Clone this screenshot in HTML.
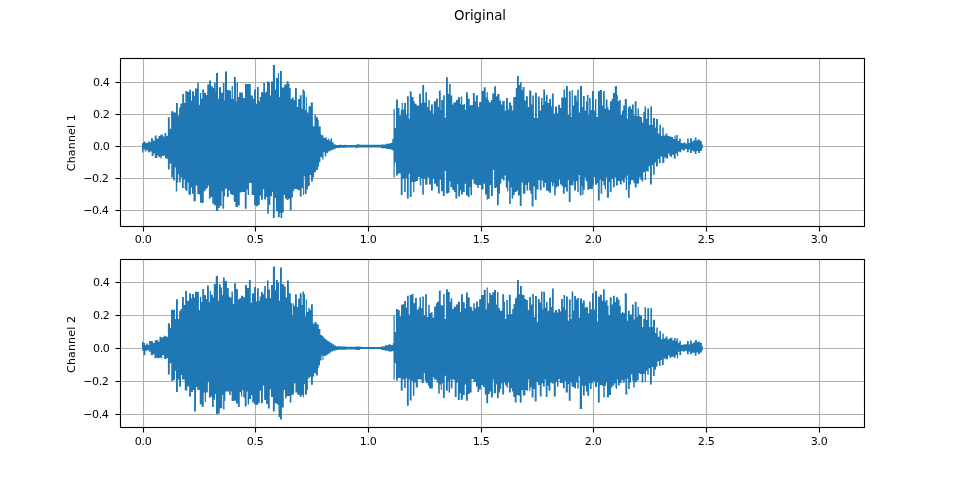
<!DOCTYPE html>
<html><head><meta charset="utf-8"><title>Original</title>
<style>
html,body{margin:0;padding:0;background:#fff;}
body{width:960px;height:480px;overflow:hidden;}
svg{display:block;}
text{font-family:"DejaVu Sans","Liberation Sans",sans-serif;fill:#000;}
.t{font-size:11.11px;}
.n{letter-spacing:-0.4px;}
.l{letter-spacing:0.1px;}
.g{stroke:#b0b0b0;stroke-width:1.11;}
.k{stroke:#000;stroke-width:1.11;}
.w{fill:#1f77b4;stroke:none;}
</style></head><body>
<svg width="960" height="480" viewBox="0 0 960 480">
<rect width="960" height="480" fill="#fff"/>
<text x="480" y="20.4" text-anchor="middle" style="font-size:13.33px">Original</text>
<g>
<line class="g" x1="143.5" y1="58.5" x2="143.5" y2="226.5"/><line class="g" x1="255.5" y1="58.5" x2="255.5" y2="226.5"/><line class="g" x1="368.5" y1="58.5" x2="368.5" y2="226.5"/><line class="g" x1="481.5" y1="58.5" x2="481.5" y2="226.5"/><line class="g" x1="593.5" y1="58.5" x2="593.5" y2="226.5"/><line class="g" x1="706.5" y1="58.5" x2="706.5" y2="226.5"/><line class="g" x1="819.5" y1="58.5" x2="819.5" y2="226.5"/><line class="g" x1="120.5" y1="82.5" x2="864.5" y2="82.5"/><line class="g" x1="120.5" y1="114.5" x2="864.5" y2="114.5"/><line class="g" x1="120.5" y1="146.5" x2="864.5" y2="146.5"/><line class="g" x1="120.5" y1="178.5" x2="864.5" y2="178.5"/><line class="g" x1="120.5" y1="210.5" x2="864.5" y2="210.5"/>
<path class="w" d="M142.00,146.10L142.00,142.88L143.50,142.88L143.50,141.62L145.38,141.62L145.38,142.88L147.88,142.88L147.88,141.62L149.75,141.62L149.75,142.25L151.00,142.25L151.00,138.25L152.88,138.25L152.88,140.38L154.75,140.38L154.75,135.38L156.62,135.38L156.62,138.50L158.50,138.50L158.50,136.00L160.38,136.00L160.38,134.50L162.88,134.50L162.88,136.62L164.50,136.62L164.50,133.25L166.38,133.25L166.38,136.00L167.88,136.00L167.90,117.25L169.75,117.25L169.75,128.75L171.12,128.75L171.12,111.25L173.50,111.25L173.50,112.50L176.00,112.50L176.00,102.88L177.88,102.88L177.88,115.62L179.12,115.62L179.12,107.50L180.38,107.50L180.38,103.50L182.25,103.50L182.25,94.12L184.12,94.12L184.12,103.12L185.38,103.12L185.38,91.00L187.25,91.00L187.25,91.88L189.12,91.88L189.12,89.75L191.00,89.75L191.00,100.62L192.00,100.62L192.00,91.25L194.12,91.25L194.12,96.25L195.00,96.25L195.00,88.50L197.25,88.50L197.25,82.75L198.88,82.75L198.88,104.75L200.00,104.75L200.00,93.12L201.25,93.12L201.25,98.75L202.25,98.75L202.25,89.38L204.12,89.38L204.12,93.12L206.00,93.12L206.00,95.00L207.25,95.00L207.25,84.38L209.12,84.38L209.12,80.62L211.00,80.62L211.00,86.25L212.88,86.25L212.88,88.12L214.12,88.12L214.12,82.50L215.75,82.50L215.75,91.25L216.00,91.25L216.00,72.88L218.00,72.88L218.00,98.75L219.00,98.75L219.00,87.25L221.00,87.25L221.00,92.75L222.88,92.75L222.88,83.12L224.50,83.12L224.50,100.62L225.00,100.62L225.00,71.62L227.00,71.62L227.00,90.00L229.12,90.00L229.12,90.62L231.00,90.62L231.00,98.75L231.62,98.75L231.62,86.00L232.88,86.00L232.88,99.00L233.88,99.00L233.88,77.12L235.75,77.12L235.75,82.50L236.38,82.50L236.38,101.25L237.00,101.25L237.00,82.25L238.00,82.25L238.00,96.88L239.12,96.88L239.12,92.50L242.88,92.50L242.88,98.12L245.00,98.12L245.00,84.00L250.75,84.00L250.75,95.38L252.88,95.38L252.88,98.75L254.12,98.75L254.12,89.38L256.00,89.38L256.00,103.75L257.00,103.75L257.00,86.88L258.75,86.88L258.75,101.25L259.75,101.25L259.75,96.88L261.00,96.88L261.00,92.25L263.25,92.25L263.25,83.12L265.00,83.12L265.00,92.50L266.25,92.50L266.25,91.25L267.00,91.25L267.00,81.25L268.50,81.25L268.50,82.25L270.00,82.25L270.00,95.62L271.00,95.62L271.00,81.50L272.88,81.50L272.88,65.00L275.00,65.00L275.00,89.38L276.00,89.38L276.00,78.12L277.88,78.12L277.88,73.12L279.12,73.12L279.12,96.88L280.00,96.88L280.00,71.00L281.88,71.00L281.88,87.50L284.12,87.50L284.12,84.38L286.62,84.38L286.62,81.25L288.50,81.25L288.50,83.75L289.50,83.75L289.50,88.12L290.75,88.12L290.75,98.75L292.25,98.75L292.25,97.50L293.75,97.50L293.75,100.00L295.00,100.00L295.00,88.12L296.88,88.12L296.88,106.88L298.12,106.88L298.12,99.00L299.75,99.00L299.75,95.25L301.62,95.25L301.62,108.75L302.50,108.75L302.50,89.38L304.12,89.38L304.12,91.25L305.00,91.25L305.00,110.00L305.75,110.00L305.75,96.88L306.88,96.88L306.88,112.50L308.50,112.50L308.50,106.25L310.75,106.25L310.75,102.50L312.88,102.50L312.88,126.25L314.50,126.25L314.50,115.00L316.00,115.00L316.00,117.25L317.88,117.25L317.90,119.75L318.75,119.75L318.75,126.62L320.75,126.62L320.75,134.75L322.25,134.75L322.25,135.38L323.50,135.38L323.50,137.88L325.00,137.88L325.00,137.25L326.62,137.25L326.62,139.75L327.88,139.75L327.88,138.50L329.12,138.50L329.12,140.38L330.62,140.38L330.62,138.25L332.00,138.25L332.00,142.25L333.75,142.25L333.75,144.50L336.00,144.50L336.00,145.00L339.75,145.00L339.75,144.50L341.00,144.50L341.00,145.12L344.75,145.12L344.75,144.75L346.00,144.75L346.00,144.88L356.00,144.88L356.00,144.62L357.88,144.62L357.88,144.00L358.75,144.00L358.75,144.62L359.75,144.62L359.75,144.75L381.00,144.75L381.00,144.50L386.00,144.50L386.00,143.75L389.75,143.75L389.75,142.88L392.25,142.88L392.25,139.12L393.50,139.12L393.50,109.00L394.75,109.00L394.75,128.12L396.00,128.12L396.00,99.38L397.88,99.38L397.88,108.12L399.50,108.12L399.50,115.62L400.75,115.62L400.75,110.00L401.62,110.00L401.62,103.12L402.88,103.12L402.88,109.38L404.12,109.38L404.12,103.12L406.00,103.12L406.00,114.38L407.00,114.38L407.00,96.25L408.75,96.25L408.75,118.75L409.75,118.75L409.75,91.25L411.62,91.25L411.62,96.88L413.50,96.88L413.50,101.25L414.75,101.25L414.75,103.75L416.62,103.75L416.62,105.62L419.12,105.62L419.12,93.75L421.00,93.75L421.00,103.12L422.25,103.12L422.25,85.00L424.12,85.00L424.12,102.50L425.38,102.50L425.38,92.25L427.00,92.25L427.00,106.88L428.25,106.88L428.25,100.00L429.75,100.00L429.75,110.62L431.00,110.62L431.00,104.38L432.88,104.38L432.88,113.75L433.75,113.75L433.75,101.25L436.00,101.25L436.00,98.50L437.88,98.50L437.88,106.88L438.88,106.88L438.88,90.62L440.75,90.62L440.75,110.00L441.25,110.00L441.25,100.00L443.12,100.00L443.12,95.25L444.75,95.25L444.75,117.50L446.00,117.50L446.00,77.25L447.88,77.25L447.88,93.75L449.12,93.75L449.12,84.00L450.75,84.00L450.75,95.62L452.25,95.62L452.25,104.38L453.50,104.38L453.50,102.25L456.00,102.25L456.00,100.00L457.88,100.00L457.88,97.25L460.00,97.25L460.00,103.75L460.75,103.75L460.75,96.62L462.25,96.62L462.25,105.00L463.50,105.00L463.50,104.00L465.00,104.00L465.00,109.75L466.00,109.75L466.00,92.25L467.88,92.25L467.88,98.75L469.75,98.75L469.75,105.62L470.75,105.62L470.75,105.00L472.88,105.00L472.88,93.12L474.75,93.12L474.75,101.25L476.00,101.25L476.00,95.25L477.88,95.25L477.88,106.88L479.12,106.88L479.12,101.88L481.62,101.88L481.62,91.00L483.75,91.00L483.75,87.25L485.75,87.25L485.75,97.50L486.62,97.50L486.62,92.25L487.88,92.25L487.88,100.00L488.88,100.00L488.88,102.25L491.00,102.25L491.00,100.00L492.25,100.00L492.25,93.50L494.12,93.50L494.12,86.25L496.00,86.25L496.00,96.25L497.25,96.25L497.25,94.00L499.50,94.00L499.50,100.62L501.00,100.62L501.00,104.38L502.25,104.38L502.25,101.00L504.75,101.00L504.75,110.62L506.00,110.62L506.00,98.12L507.88,98.12L507.88,109.38L508.88,109.38L508.88,102.50L511.00,102.50L511.00,105.62L512.25,105.62L512.25,110.62L513.25,110.62L513.25,96.88L515.75,96.88L515.75,88.12L517.00,88.12L517.00,76.00L518.88,76.00L518.88,85.00L520.00,85.00L520.00,82.25L521.62,82.25L521.62,90.00L522.62,90.00L522.62,86.88L524.50,86.88L524.50,100.62L526.00,100.62L526.00,96.25L527.88,96.25L527.88,106.88L529.12,106.88L529.12,90.62L531.38,90.62L531.38,104.38L532.25,104.38L532.25,95.62L533.88,95.62L533.88,118.12L535.00,118.12L535.00,92.75L536.88,92.75L536.88,118.12L537.88,118.12L537.88,96.50L539.75,96.50L539.75,110.62L541.00,110.62L541.00,98.12L542.50,98.12L542.50,105.00L543.25,105.00L543.25,89.38L545.00,89.38L545.00,101.25L546.00,101.25L546.00,95.00L547.62,95.00L547.62,103.12L549.12,103.12L549.12,98.75L551.00,98.75L551.00,106.25L552.00,106.25L552.00,93.50L553.75,93.50L553.75,113.75L555.00,113.75L555.00,106.50L557.00,106.50L557.00,113.12L558.12,113.12L558.12,104.75L560.00,104.75L560.00,108.12L561.25,108.12L561.25,97.50L563.50,97.50L563.50,89.38L565.12,89.38L565.12,97.50L566.00,97.50L566.00,86.00L567.88,86.00L567.88,115.00L568.88,115.00L568.88,91.25L570.75,91.25L570.75,116.88L571.62,116.88L571.62,90.00L572.88,90.00L572.88,105.62L574.12,105.62L574.12,95.62L576.62,95.62L576.62,101.25L577.25,101.25L577.25,89.75L578.88,89.75L578.88,112.50L580.00,112.50L580.00,86.00L582.00,86.00L582.00,106.88L582.88,106.88L582.88,96.00L584.75,96.00L584.75,110.62L586.00,110.62L586.00,101.25L586.88,101.25L586.88,95.00L588.50,95.00L588.50,114.38L589.12,114.38L589.12,98.12L590.75,98.12L590.75,110.00L592.00,110.00L592.00,91.00L593.88,91.00L593.88,110.62L595.00,110.62L595.00,99.00L596.38,99.00L596.38,116.88L597.88,116.88L597.88,91.25L599.75,91.25L599.75,90.00L602.00,90.00L602.00,105.62L603.00,105.62L603.00,91.25L604.75,91.25L604.75,108.75L605.75,108.75L605.75,99.38L607.50,99.38L607.50,107.50L608.50,107.50L608.50,110.00L610.00,110.00L610.00,101.25L611.62,101.25L611.62,98.75L612.88,98.75L612.88,93.12L614.75,93.12L614.75,86.25L616.00,86.25L616.00,86.00L617.00,86.00L617.00,95.00L617.88,95.00L617.88,101.25L619.12,101.25L619.12,100.00L620.75,100.00L620.75,115.00L622.00,115.00L622.00,110.62L623.25,110.62L623.25,105.62L624.75,105.62L624.75,99.00L626.88,99.00L626.88,118.75L627.88,118.75L627.88,107.25L629.12,107.25L629.12,106.00L630.75,106.00L630.75,108.75L632.00,108.75L632.00,104.38L633.75,104.38L633.75,115.62L634.75,115.62L634.75,101.25L636.62,101.25L636.62,116.25L637.50,116.25L637.50,108.50L638.88,108.50L638.88,116.25L640.38,116.25L640.38,116.88L642.00,116.88L642.00,122.50L643.25,122.50L643.25,111.88L644.50,111.88L644.50,106.50L646.00,106.50L646.00,118.75L647.25,118.75L647.25,108.50L649.12,108.50L649.12,125.00L650.38,125.00L650.38,106.25L652.00,106.25L652.00,125.00L652.88,125.00L652.88,118.12L655.00,118.12L655.00,127.50L656.00,127.50L656.00,119.00L657.88,119.00L657.90,133.50L659.38,133.50L659.38,124.75L661.00,124.75L661.00,136.00L662.25,136.00L662.25,127.50L663.75,127.50L663.75,135.38L665.62,135.38L665.62,133.50L667.50,133.50L667.50,136.00L669.38,136.00L669.38,136.62L671.25,136.62L671.25,137.00L673.12,137.00L673.12,139.12L674.38,139.12L674.38,135.38L675.62,135.38L675.62,139.12L676.25,139.12L676.25,135.00L677.75,135.00L677.75,141.00L679.00,141.00L679.00,138.75L680.88,138.75L680.88,142.88L682.50,142.88L682.50,143.25L683.75,143.25L683.75,142.25L685.25,142.25L685.25,143.50L687.12,143.50L687.12,138.50L688.75,138.50L688.75,142.88L690.00,142.88L690.00,138.25L691.88,138.25L691.88,141.62L693.12,141.62L693.12,140.38L694.75,140.38L694.75,137.50L696.50,137.50L696.50,140.38L697.75,140.38L697.75,139.50L700.00,139.50L700.00,141.00L701.88,141.00L701.88,144.50L702.75,144.50L702.75,146.10L702.75,148.50L701.88,148.50L701.88,151.00L700.00,151.00L700.00,152.88L698.12,152.88L698.12,151.00L696.50,151.00L696.50,154.12L694.75,154.12L694.75,151.62L693.12,151.62L693.12,150.38L691.88,150.38L691.88,152.88L690.00,152.88L690.00,149.50L688.75,149.50L688.75,152.25L686.88,152.25L686.88,149.12L685.00,149.12L685.00,150.38L682.50,150.38L682.50,149.50L681.25,149.50L681.25,152.25L679.38,152.25L679.38,151.62L678.12,151.62L678.12,156.25L676.88,156.25L676.88,153.50L675.62,153.50L675.62,158.75L673.75,158.75L673.75,154.75L671.88,154.75L671.88,157.25L670.62,157.25L670.62,156.00L669.38,156.00L669.38,153.50L668.12,153.50L668.12,158.50L665.62,158.50L665.62,157.25L664.38,157.25L664.38,162.88L662.25,162.88L662.25,156.62L660.62,156.62L660.62,163.25L659.00,163.25L659.00,159.12L657.90,159.12L657.88,166.50L656.00,166.50L656.00,162.50L654.75,162.50L654.75,174.75L653.12,174.75L653.12,165.00L651.88,165.00L651.88,184.38L650.00,184.38L650.00,166.25L648.75,166.25L648.75,171.50L647.25,171.50L647.25,171.25L646.00,171.25L646.00,180.25L644.75,180.25L644.75,171.88L643.25,171.88L643.25,181.50L641.62,181.50L641.62,179.75L640.38,179.75L640.38,177.50L639.12,177.50L639.12,183.50L637.88,183.50L637.88,183.75L636.62,183.75L636.62,187.50L634.75,187.50L634.75,183.12L633.50,183.12L633.50,180.25L631.00,180.25L631.00,184.38L629.75,184.38L629.75,197.75L627.88,197.75L627.88,175.62L627.00,175.62L627.00,190.00L625.75,190.00L625.75,177.50L624.75,177.50L624.75,182.50L622.88,182.50L622.88,180.62L621.62,180.62L621.62,184.38L619.75,184.38L619.75,181.00L617.88,181.00L617.88,185.62L616.00,185.62L616.00,177.50L614.75,177.50L614.75,187.25L612.88,187.25L612.88,178.75L611.62,178.75L611.62,191.88L609.75,191.88L609.75,181.88L608.88,181.88L608.88,197.75L606.88,197.75L606.88,177.50L606.00,177.50L606.00,189.38L604.75,189.38L604.75,185.62L603.50,185.62L603.50,181.25L602.25,181.25L602.25,193.75L600.62,193.75L600.62,179.38L599.75,179.38L599.75,200.62L597.88,200.62L597.88,183.12L597.00,183.12L597.00,184.75L595.00,184.75L595.00,176.88L593.88,176.88L593.88,185.62L592.88,185.62L592.88,189.00L589.12,189.00L589.12,189.75L587.25,189.75L587.25,181.25L585.75,181.25L585.75,177.50L584.75,177.50L584.75,190.00L583.50,190.00L583.50,194.75L582.25,194.75L582.25,186.25L581.62,186.25L581.62,195.62L579.75,195.62L579.75,175.00L578.75,175.00L578.75,191.88L577.25,191.88L577.25,181.25L576.00,181.25L576.00,190.62L574.12,190.62L574.12,181.25L573.50,181.25L573.50,185.62L571.62,185.62L571.62,185.00L570.62,185.00L570.62,201.88L568.75,201.88L568.75,180.00L567.88,180.00L567.88,191.50L566.00,191.50L566.00,187.25L564.75,187.25L564.75,193.75L562.88,193.75L562.88,186.25L561.62,186.25L561.62,184.38L560.00,184.38L560.00,179.38L559.12,179.38L559.12,186.25L557.25,186.25L557.25,187.50L555.75,187.50L555.75,195.25L554.12,195.25L554.12,183.12L553.50,183.12L553.50,186.25L551.88,186.25L551.88,181.88L551.00,181.88L551.00,193.12L549.50,193.12L549.50,191.50L547.88,191.50L547.88,190.62L546.00,190.62L546.00,183.12L544.75,183.12L544.75,187.50L542.88,187.50L542.88,180.62L541.62,180.62L541.62,190.25L539.75,190.25L539.75,180.00L538.50,180.00L538.50,189.38L536.62,189.38L536.62,199.75L534.75,199.75L534.75,186.25L533.50,186.25L533.50,206.50L531.62,206.50L531.62,193.75L530.38,193.75L530.38,190.62L529.12,190.62L529.12,182.50L528.12,182.50L528.12,190.62L526.62,190.62L526.62,185.00L525.38,185.00L525.38,193.75L522.88,193.75L522.88,182.50L521.62,182.50L521.62,206.00L519.75,206.00L519.75,195.62L517.88,195.62L517.88,190.62L516.62,190.62L516.62,191.88L514.75,191.88L514.75,195.00L513.25,195.00L513.25,198.50L511.62,198.50L511.62,187.50L510.75,187.50L510.75,204.00L509.12,204.00L509.12,181.25L508.25,181.25L508.25,191.25L507.00,191.25L507.00,187.50L505.75,187.50L505.75,175.62L504.50,175.62L504.50,180.62L502.88,180.62L502.88,178.75L501.25,178.75L501.25,183.75L500.00,183.75L500.00,193.75L498.75,193.75L498.75,205.25L497.00,205.25L497.00,187.50L496.00,187.50L496.00,188.12L494.12,188.12L494.12,170.00L492.88,170.00L492.88,196.00L491.00,196.00L491.00,185.00L489.75,185.00L489.75,198.75L488.12,198.75L488.12,199.38L486.62,199.38L486.62,194.38L485.00,194.38L485.00,183.75L483.50,183.75L483.50,189.38L481.00,189.38L481.00,185.00L478.75,185.00L478.75,188.12L477.25,188.12L477.25,185.00L475.38,185.00L475.38,183.75L473.50,183.75L473.50,179.38L472.00,179.38L472.00,195.25L470.38,195.25L470.38,186.88L469.50,186.88L469.50,197.25L467.88,197.25L467.88,195.62L466.00,195.62L466.00,183.75L464.75,183.75L464.75,191.88L462.88,191.88L462.88,194.38L461.00,194.38L461.00,190.62L460.00,190.62L460.00,196.50L458.12,196.50L458.12,183.75L457.25,183.75L457.25,198.50L455.38,198.50L455.38,191.88L454.12,191.88L454.12,190.00L452.25,190.00L452.25,187.25L450.38,187.25L450.38,181.25L449.50,181.25L449.50,192.75L447.88,192.75L447.88,193.50L446.00,193.50L446.00,171.00L444.75,171.00L444.75,196.00L442.88,196.00L442.88,191.25L441.00,191.25L441.00,179.75L439.75,179.75L439.75,193.50L437.88,193.50L437.88,186.25L436.00,186.25L436.00,183.75L434.12,183.75L434.12,178.75L432.88,178.75L432.88,190.62L431.00,190.62L431.00,184.38L429.12,184.38L429.12,177.50L427.50,177.50L427.50,184.75L425.12,184.75L425.12,178.75L423.88,178.75L423.88,194.75L422.25,194.75L422.25,178.12L421.25,178.12L421.25,185.62L419.75,185.62L419.75,176.88L417.88,176.88L417.88,181.00L415.75,181.00L415.75,181.88L414.38,181.88L414.38,192.25L413.12,192.25L413.12,181.88L411.62,181.88L411.62,196.88L409.75,196.88L409.75,173.75L408.75,173.75L408.75,198.50L406.88,198.50L406.88,178.12L405.75,178.12L405.75,191.88L404.12,191.88L404.12,178.75L402.62,178.75L402.62,195.00L400.75,195.00L400.75,173.50L397.88,173.50L397.88,175.62L396.00,175.62L396.00,162.50L394.75,162.50L394.75,177.50L393.50,177.50L393.50,150.38L392.25,150.38L392.25,149.50L389.75,149.50L389.75,149.12L386.00,149.12L386.00,148.25L381.00,148.25L381.00,147.50L357.25,147.50L357.25,148.25L356.00,148.25L356.00,147.62L346.00,147.62L346.00,147.75L339.75,147.75L339.75,148.00L336.00,148.00L336.00,148.75L334.12,148.75L334.12,149.50L332.25,149.50L332.25,150.38L329.75,150.38L329.75,151.62L327.88,151.62L327.88,152.88L326.25,152.88L326.25,156.62L324.75,156.62L324.75,152.25L323.50,152.25L323.50,159.75L322.25,159.75L322.25,157.25L320.38,157.25L320.38,162.25L319.12,162.25L319.12,165.38L318.75,165.38L318.75,166.88L317.88,166.88L317.88,170.00L316.00,170.00L316.00,172.25L314.12,172.25L314.12,177.50L312.88,177.50L312.88,181.50L311.00,181.50L311.00,175.00L309.75,175.00L309.75,186.00L307.88,186.00L307.88,189.38L306.62,189.38L306.62,194.00L304.75,194.00L304.75,176.25L303.88,176.25L303.88,195.00L302.88,195.00L302.88,188.12L301.62,188.12L301.62,196.50L299.75,196.50L299.75,190.00L297.25,190.00L297.25,189.00L294.12,189.00L294.12,191.25L292.88,191.25L292.88,197.50L291.62,197.50L291.62,210.62L289.75,210.62L289.75,198.75L288.50,198.75L288.50,200.00L286.62,200.00L286.62,198.50L285.00,198.50L285.00,195.00L283.75,195.00L283.75,212.50L282.25,212.50L282.25,218.12L280.62,218.12L280.62,213.12L279.75,213.12L279.75,217.25L277.88,217.25L277.88,211.25L276.00,211.25L276.00,198.12L274.75,198.12L274.75,218.12L272.88,218.12L272.88,191.88L272.00,191.88L272.00,196.25L270.38,196.25L270.38,205.00L268.88,205.00L268.88,213.75L267.25,213.75L267.25,196.88L266.00,196.88L266.00,199.38L264.12,199.38L264.12,189.38L262.88,189.38L262.88,199.75L261.00,199.75L261.00,195.62L259.75,195.62L259.75,205.00L257.88,205.00L257.88,206.25L256.00,206.25L256.00,205.62L254.12,205.62L254.12,195.00L251.62,195.00L251.62,183.12L249.12,183.12L249.12,195.00L247.62,195.00L247.62,189.38L246.62,189.38L246.62,208.75L244.75,208.75L244.75,191.88L241.62,191.88L241.62,192.50L239.75,192.50L239.75,205.62L237.88,205.62L237.88,206.88L235.38,206.88L235.38,201.88L233.75,201.88L233.75,195.00L231.62,195.00L231.62,194.00L230.00,194.00L230.00,190.62L228.75,190.62L228.75,196.88L227.00,196.88L227.00,188.75L225.00,188.75L225.00,196.25L224.12,196.25L224.12,208.75L222.50,208.75L222.50,191.25L221.62,191.25L221.62,206.00L219.75,206.00L219.75,208.12L218.25,208.12L218.25,211.00L216.00,211.00L216.00,205.62L214.12,205.62L214.12,203.75L212.25,203.75L212.25,196.88L210.62,196.88L210.62,198.75L208.88,198.75L208.88,185.62L207.88,185.62L207.88,188.12L206.62,188.12L206.62,189.38L205.38,189.38L205.38,191.25L203.75,191.25L203.75,203.12L201.88,203.12L201.88,202.75L200.00,202.75L200.00,194.38L198.50,194.38L198.50,194.00L197.25,194.00L197.25,185.62L195.75,185.62L195.75,201.25L193.50,201.25L193.50,193.75L192.00,193.75L192.00,187.50L191.00,187.50L191.00,194.75L188.50,194.75L188.50,182.50L187.50,182.50L187.50,190.88L186.00,190.88L186.00,189.38L184.75,189.38L184.75,179.38L183.75,179.38L183.75,188.12L182.00,188.12L182.00,177.50L180.75,177.50L180.75,182.50L179.12,182.50L179.12,174.38L178.12,174.38L178.12,182.50L177.25,182.50L177.25,191.50L175.75,191.50L175.75,167.50L174.75,167.50L174.75,180.62L173.12,180.62L173.12,177.50L171.25,177.50L171.25,163.50L169.75,163.50L169.75,169.38L167.90,169.38L167.88,159.12L166.62,159.12L166.62,158.25L165.00,158.25L165.00,155.75L163.50,155.75L163.50,156.00L161.62,156.00L161.62,158.50L160.38,158.50L160.38,157.25L158.50,157.25L158.50,155.38L157.25,155.38L157.25,157.88L154.75,157.88L154.75,153.50L153.50,153.50L153.50,156.00L151.62,156.00L151.62,151.62L150.00,151.62L150.00,152.62L148.50,152.62L148.50,151.62L147.50,151.62L147.50,149.75L146.25,149.75L146.25,151.38L144.75,151.38L144.75,149.50L143.25,149.50L143.25,152.50L142.00,152.50Z"/>
<line class="k" x1="143.5" y1="226.5" x2="143.5" y2="231.5"/><line class="k" x1="255.5" y1="226.5" x2="255.5" y2="231.5"/><line class="k" x1="368.5" y1="226.5" x2="368.5" y2="231.5"/><line class="k" x1="481.5" y1="226.5" x2="481.5" y2="231.5"/><line class="k" x1="593.5" y1="226.5" x2="593.5" y2="231.5"/><line class="k" x1="706.5" y1="226.5" x2="706.5" y2="231.5"/><line class="k" x1="819.5" y1="226.5" x2="819.5" y2="231.5"/><line class="k" x1="115.5" y1="82.5" x2="120.5" y2="82.5"/><line class="k" x1="115.5" y1="114.5" x2="120.5" y2="114.5"/><line class="k" x1="115.5" y1="146.5" x2="120.5" y2="146.5"/><line class="k" x1="115.5" y1="178.5" x2="120.5" y2="178.5"/><line class="k" x1="115.5" y1="210.5" x2="120.5" y2="210.5"/>
<rect x="120.5" y="58.5" width="744" height="168.0" fill="none" class="k" stroke-linejoin="miter"/>
<text class="t n" x="143.1" y="243" text-anchor="middle">0.0</text><text class="t n" x="255.1" y="243" text-anchor="middle">0.5</text><text class="t n" x="368.1" y="243" text-anchor="middle">1.0</text><text class="t n" x="481.1" y="243" text-anchor="middle">1.5</text><text class="t n" x="593.1" y="243" text-anchor="middle">2.0</text><text class="t n" x="706.1" y="243" text-anchor="middle">2.5</text><text class="t n" x="819.1" y="243" text-anchor="middle">3.0</text>
<text class="t n" x="109.45" y="86" text-anchor="end">0.4</text><text class="t n" x="109.45" y="118" text-anchor="end">0.2</text><text class="t n" x="109.45" y="150" text-anchor="end">0.0</text><text class="t n" x="108.55" y="182" text-anchor="end">−0.2</text><text class="t n" x="108.55" y="214" text-anchor="end">−0.4</text>
<text class="t l" transform="translate(75,142.6) rotate(-90)" text-anchor="middle">Channel 1</text>
</g>
<g>
<line class="g" x1="143.5" y1="259.5" x2="143.5" y2="427.5"/><line class="g" x1="255.5" y1="259.5" x2="255.5" y2="427.5"/><line class="g" x1="368.5" y1="259.5" x2="368.5" y2="427.5"/><line class="g" x1="481.5" y1="259.5" x2="481.5" y2="427.5"/><line class="g" x1="593.5" y1="259.5" x2="593.5" y2="427.5"/><line class="g" x1="706.5" y1="259.5" x2="706.5" y2="427.5"/><line class="g" x1="819.5" y1="259.5" x2="819.5" y2="427.5"/><line class="g" x1="120.5" y1="282.5" x2="864.5" y2="282.5"/><line class="g" x1="120.5" y1="315.5" x2="864.5" y2="315.5"/><line class="g" x1="120.5" y1="348.5" x2="864.5" y2="348.5"/><line class="g" x1="120.5" y1="381.5" x2="864.5" y2="381.5"/><line class="g" x1="120.5" y1="414.5" x2="864.5" y2="414.5"/>
<path class="w" d="M142.00,348.10L142.00,342.00L143.50,342.00L143.50,343.00L145.00,343.00L145.00,344.88L146.25,344.88L146.25,343.62L147.88,343.62L147.88,344.88L149.12,344.88L149.12,341.12L151.00,341.12L151.00,340.88L152.88,340.88L152.88,343.00L154.75,343.00L154.75,340.25L156.62,340.25L156.62,339.88L158.25,339.88L158.25,341.75L159.50,341.75L159.50,336.75L161.00,336.75L161.00,337.38L162.50,337.38L162.50,337.00L164.12,337.00L164.12,335.75L166.00,335.75L166.00,336.75L167.88,336.75L167.88,323.25L170.00,323.25L170.00,328.00L171.00,328.00L171.00,309.75L175.00,309.75L175.00,318.88L176.00,318.88L176.00,299.25L177.88,299.25L177.88,318.88L179.12,318.88L179.12,311.00L180.38,311.00L180.38,308.88L182.00,308.88L182.00,297.00L183.88,297.00L183.88,305.12L185.12,305.12L185.12,291.00L187.00,291.00L187.00,300.75L189.12,300.75L189.12,293.25L191.00,293.25L191.00,298.25L192.00,298.25L192.00,293.88L193.88,293.88L193.88,297.62L195.00,297.62L195.00,291.75L198.88,291.75L198.88,310.12L200.00,310.12L200.00,296.75L201.25,296.75L201.25,302.00L202.25,302.00L202.25,288.88L204.12,288.88L204.12,295.12L206.00,295.12L206.00,298.88L207.00,298.88L207.00,285.50L208.88,285.50L208.88,302.00L209.75,302.00L209.75,291.00L211.00,291.00L211.00,294.75L212.88,294.75L212.88,297.62L213.75,297.62L213.75,283.88L215.75,283.88L215.75,276.00L218.00,276.00L218.00,300.75L218.88,300.75L218.88,284.25L220.75,284.25L220.75,287.62L222.00,287.62L222.00,295.12L222.88,295.12L222.88,277.62L224.75,277.62L224.75,281.00L227.00,281.00L227.00,288.00L228.75,288.00L228.75,296.38L229.75,296.38L229.75,297.62L231.38,297.62L231.38,291.38L232.88,291.38L232.88,303.88L234.12,303.88L234.12,283.25L236.00,283.25L236.00,288.88L237.88,288.88L237.88,299.50L239.12,299.50L239.12,298.25L241.00,298.25L241.00,295.75L243.25,295.75L243.25,297.25L245.00,297.25L245.00,285.12L247.00,285.12L247.00,288.00L248.88,288.00L248.88,280.12L250.75,280.12L250.75,302.62L252.00,302.62L252.00,293.25L254.12,293.25L254.12,287.00L256.00,287.00L256.00,301.38L257.00,301.38L257.00,288.25L258.75,288.25L258.75,300.75L259.75,300.75L259.75,296.38L261.00,296.38L261.00,292.00L262.88,292.00L262.88,294.25L264.12,294.25L264.12,286.00L265.75,286.00L265.75,298.25L267.00,298.25L267.00,280.50L268.50,280.50L268.50,289.50L270.00,289.50L270.00,298.25L271.00,298.25L271.00,285.12L272.88,285.12L272.88,266.38L275.00,266.38L275.00,290.12L276.00,290.12L276.00,280.12L277.88,280.12L277.88,282.62L279.12,282.62L279.12,300.75L280.00,300.75L280.00,267.62L281.88,267.62L281.88,284.25L284.12,284.25L284.12,286.38L285.75,286.38L285.75,297.62L287.00,297.62L287.00,280.50L288.88,280.50L288.88,293.25L290.75,293.25L290.75,303.25L292.25,303.25L292.25,315.12L292.88,315.12L292.88,303.25L293.88,303.25L293.88,305.75L295.00,305.75L295.00,294.25L296.88,294.25L296.88,307.00L298.12,307.00L298.12,298.50L299.75,298.50L299.75,293.25L301.62,293.25L301.62,305.12L302.50,305.12L302.50,291.38L304.12,291.38L304.12,294.25L305.00,294.25L305.00,316.38L305.75,316.38L305.75,299.50L306.88,299.50L306.88,312.00L308.25,312.00L308.25,308.00L309.75,308.00L309.75,310.12L311.00,310.12L311.00,304.25L312.88,304.25L312.90,323.62L314.50,323.62L314.50,322.00L316.62,322.00L316.62,324.25L318.75,324.25L318.75,329.00L320.38,329.00L320.38,334.88L322.25,334.88L322.25,336.12L323.50,336.12L323.50,338.00L325.00,338.00L325.00,339.25L326.62,339.25L326.62,340.50L328.50,340.50L328.50,341.75L330.38,341.75L330.38,343.00L332.25,343.00L332.25,344.25L334.12,344.25L334.12,345.50L336.00,345.50L336.00,346.25L341.00,346.25L341.00,346.62L346.00,346.62L346.00,346.75L356.00,346.75L356.00,346.62L361.00,346.62L361.00,346.88L381.00,346.88L381.00,346.50L384.75,346.50L384.75,345.25L388.50,345.25L388.50,344.25L390.38,344.25L390.38,344.88L392.88,344.88L392.88,343.00L393.50,343.00L393.50,315.50L394.75,315.50L394.75,332.00L396.00,332.00L396.00,308.88L397.88,308.88L397.88,310.12L399.75,310.12L399.75,316.38L401.00,316.38L401.00,305.12L402.25,305.12L402.25,304.25L404.12,304.25L404.12,301.00L406.00,301.00L406.00,307.62L407.00,307.62L407.00,295.75L408.75,295.75L408.75,314.50L409.75,314.50L409.75,295.12L411.62,295.12L411.62,293.88L413.50,293.88L413.50,303.25L415.00,303.25L415.00,298.00L416.88,298.00L416.88,309.50L418.50,309.50L418.50,307.00L419.50,307.00L419.50,297.25L421.00,297.25L421.00,308.25L422.25,308.25L422.25,296.38L423.88,296.38L423.88,315.12L425.12,315.12L425.12,294.25L426.88,294.25L426.88,317.00L428.25,317.00L428.25,305.12L429.75,305.12L429.75,313.00L431.00,313.00L431.00,312.25L432.50,312.25L432.50,317.62L434.12,317.62L434.12,306.38L436.00,306.38L436.00,303.25L437.25,303.25L437.25,301.38L438.88,301.38L438.88,290.50L440.75,290.50L440.75,305.12L441.62,305.12L441.62,305.50L443.12,305.50L443.12,294.25L444.75,294.25L444.75,318.88L446.00,318.88L446.00,289.25L447.88,289.25L447.88,292.00L449.75,292.00L449.75,302.00L450.75,302.00L450.75,298.25L452.25,298.25L452.25,308.88L453.75,308.88L453.75,306.75L456.00,306.75L456.00,304.50L457.88,304.50L457.88,301.75L460.00,301.75L460.00,312.00L461.00,312.00L461.00,294.25L462.88,294.25L462.88,302.25L464.75,302.25L464.75,308.25L466.00,308.25L466.00,292.62L467.88,292.62L467.88,297.62L469.75,297.62L469.75,306.38L470.75,306.38L470.75,307.25L472.25,307.25L472.25,310.75L473.25,310.75L473.25,303.25L474.75,303.25L474.75,308.25L476.00,308.25L476.00,301.38L477.88,301.38L477.88,307.00L479.12,307.00L479.12,299.25L481.00,299.25L481.00,295.12L483.75,295.12L483.75,289.75L485.75,289.75L485.75,309.50L486.62,309.50L486.62,287.38L487.88,287.38L487.88,303.25L489.12,303.25L489.12,293.00L490.75,293.00L490.75,295.12L492.25,295.12L492.25,292.25L494.12,292.25L494.12,290.12L496.00,290.12L496.00,304.50L497.00,304.50L497.00,292.00L498.50,292.00L498.50,308.25L500.00,308.25L500.00,310.75L502.25,310.75L502.25,294.25L504.12,294.25L504.12,302.00L505.00,302.00L505.00,318.88L506.25,318.88L506.25,300.12L507.88,300.12L507.88,314.50L508.88,314.50L508.88,294.75L510.75,294.75L510.75,313.88L512.25,313.88L512.25,308.88L513.50,308.88L513.50,303.88L515.00,303.88L515.00,298.25L516.62,298.25L516.62,295.75L517.00,295.75L517.00,280.12L518.88,280.12L518.88,293.88L520.00,293.88L520.00,286.00L521.88,286.00L521.88,294.75L522.88,294.75L522.88,295.12L524.50,295.12L524.50,298.88L526.00,298.88L526.00,300.12L527.88,300.12L527.88,310.12L529.12,310.12L529.12,297.00L531.00,297.00L531.00,304.50L532.25,304.50L532.25,293.88L533.88,293.88L533.88,317.00L535.00,317.00L535.00,296.00L536.88,296.00L536.88,322.00L537.88,322.00L537.88,298.88L539.75,298.88L539.75,302.62L541.00,302.62L541.00,291.38L542.50,291.38L542.50,309.50L543.25,309.50L543.25,291.75L545.00,291.75L545.00,307.62L546.00,307.62L546.00,302.00L547.62,302.00L547.62,310.75L549.12,310.75L549.12,297.62L551.00,297.62L551.00,307.00L552.00,307.00L552.00,288.50L553.75,288.50L553.75,312.62L555.00,312.62L555.00,310.12L557.00,310.12L557.00,312.62L558.12,312.62L558.12,308.88L560.00,308.88L560.00,311.38L561.00,311.38L561.00,298.88L562.88,298.88L562.88,307.00L563.50,307.00L563.50,295.12L565.12,295.12L565.12,309.50L566.00,309.50L566.00,296.38L567.88,296.38L567.88,320.75L568.88,320.75L568.88,299.50L570.75,299.50L570.75,318.88L571.62,318.88L571.62,291.38L573.25,291.38L573.25,310.75L574.12,310.75L574.12,296.00L576.00,296.00L576.00,299.50L577.00,299.50L577.00,298.00L578.88,298.00L578.88,317.62L580.00,317.62L580.00,298.50L582.00,298.50L582.00,303.25L582.88,303.25L582.88,300.50L584.75,300.50L584.75,307.62L586.00,307.62L586.00,307.00L587.88,307.00L587.88,313.25L589.12,313.25L589.12,301.38L590.75,301.38L590.75,309.25L592.00,309.25L592.00,293.25L593.88,293.25L593.88,309.50L595.00,309.50L595.00,291.00L597.00,291.00L597.00,321.38L597.88,321.38L597.88,296.75L599.75,296.75L599.75,294.75L602.00,294.75L602.00,300.75L603.00,300.75L603.00,289.25L604.75,289.25L604.75,301.38L605.75,301.38L605.75,300.12L607.50,300.12L607.50,305.75L608.50,305.75L608.50,315.12L609.75,315.12L609.75,297.25L611.62,297.25L611.62,304.50L612.88,304.50L612.88,295.75L614.75,295.75L614.75,302.00L616.00,302.00L616.00,297.25L617.88,297.25L617.88,299.50L619.50,299.50L619.50,305.75L620.75,305.75L620.75,313.25L622.00,313.25L622.00,312.00L623.25,312.00L623.25,313.25L624.75,313.25L624.75,293.25L626.88,293.25L626.88,320.75L627.88,320.75L627.88,310.75L629.75,310.75L629.75,314.50L632.00,314.50L632.00,304.50L633.75,304.50L633.75,319.50L634.75,319.50L634.75,301.75L636.62,301.75L636.62,317.00L637.50,317.00L637.50,306.75L638.88,306.75L638.88,314.50L640.38,314.50L640.38,315.75L642.00,315.75L642.00,327.00L643.25,327.00L643.25,318.88L644.50,318.88L644.50,307.25L646.00,307.25L646.00,320.12L647.25,320.12L647.25,308.25L649.12,308.25L649.12,327.00L650.38,327.00L650.38,308.00L652.00,308.00L652.00,327.00L652.88,327.00L652.88,319.75L655.00,319.75L655.00,333.00L656.25,333.00L656.25,327.38L657.75,327.38L657.75,336.75L659.38,336.75L659.38,331.12L661.00,331.12L661.00,339.25L662.25,339.25L662.25,333.62L663.75,333.62L663.75,338.62L665.62,338.62L665.62,336.50L667.50,336.50L667.50,339.25L669.38,339.25L669.38,338.00L671.25,338.00L671.25,337.75L672.50,337.75L672.50,340.50L674.00,340.50L674.00,338.00L675.62,338.00L675.62,341.12L676.50,341.12L676.50,338.62L678.12,338.62L678.12,343.00L679.38,343.00L679.38,340.75L680.88,340.75L680.88,344.88L682.50,344.88L682.50,344.50L685.00,344.50L685.00,344.25L686.88,344.25L686.88,341.12L688.75,341.12L688.75,344.50L690.00,344.50L690.00,340.50L691.88,340.50L691.88,343.62L693.12,343.62L693.12,342.38L694.75,342.38L694.75,340.25L696.88,340.25L696.88,342.00L698.12,342.00L698.12,341.75L700.00,341.75L700.00,342.75L701.88,342.75L701.88,346.12L702.75,346.12L702.75,348.10L702.75,350.25L701.88,350.25L701.88,352.38L700.00,352.38L700.00,354.25L698.12,354.25L698.12,352.38L696.50,352.38L696.50,355.75L694.75,355.75L694.75,352.75L691.88,352.75L691.88,354.25L690.00,354.25L690.00,351.50L688.75,351.50L688.75,354.25L686.88,354.25L686.88,350.75L685.00,350.75L685.00,351.50L682.50,351.50L682.50,351.12L681.25,351.12L681.25,354.88L679.38,354.88L679.38,351.75L678.12,351.75L678.12,358.62L676.88,358.62L676.88,354.88L675.62,354.88L675.62,357.75L673.75,357.75L673.75,356.75L671.25,356.75L671.25,357.75L669.38,357.75L669.38,355.50L668.12,355.50L668.12,359.25L665.62,359.25L665.62,358.62L663.75,358.62L663.75,364.88L661.88,364.88L661.88,359.88L660.62,359.88L660.62,366.12L659.00,366.12L659.00,361.50L657.50,361.50L657.50,366.75L656.25,366.75L656.25,366.12L656.00,366.12L656.00,369.75L654.75,369.75L654.75,376.00L653.12,376.00L653.12,367.00L651.88,367.00L651.88,384.50L650.00,384.50L650.00,368.25L648.75,368.25L648.75,374.75L647.25,374.75L647.25,370.75L646.00,370.75L646.00,381.75L644.75,381.75L644.75,373.88L643.25,373.88L643.25,382.62L641.62,382.62L641.62,373.88L639.75,373.88L639.75,373.25L638.75,373.25L638.75,380.50L636.62,380.50L636.62,382.25L634.75,382.25L634.75,387.62L633.25,387.62L633.25,380.75L632.25,380.75L632.25,374.50L631.00,374.50L631.00,382.62L629.75,382.62L629.75,388.88L628.12,388.88L628.12,378.25L627.25,378.25L627.25,394.50L625.38,394.50L625.38,379.50L624.75,379.50L624.75,382.62L622.88,382.62L622.88,380.12L621.62,380.12L621.62,383.00L619.75,383.00L619.75,385.50L617.88,385.50L617.88,379.50L617.00,379.50L617.00,388.88L616.00,388.88L616.00,387.62L615.38,387.62L615.38,383.25L614.12,383.25L614.12,385.75L612.25,385.75L612.25,387.62L611.00,387.62L611.00,395.12L608.88,395.12L608.88,397.62L606.88,397.62L606.88,382.62L606.00,382.62L606.00,385.75L604.75,385.75L604.75,397.25L603.25,397.25L603.25,385.75L601.62,385.75L601.62,385.12L599.75,385.12L599.75,402.62L597.88,402.62L597.88,382.62L597.00,382.62L597.00,387.00L595.00,387.00L595.00,382.00L593.88,382.00L593.88,381.38L592.88,381.38L592.88,383.25L591.62,383.25L591.62,388.88L590.00,388.88L590.00,383.25L589.12,383.25L589.12,395.75L587.25,395.75L587.25,391.38L586.00,391.38L586.00,385.75L584.75,385.75L584.75,395.50L582.88,395.50L582.88,385.75L582.00,385.75L582.00,408.88L579.75,408.88L579.75,376.38L578.75,376.38L578.75,388.50L577.25,388.50L577.25,382.62L576.00,382.62L576.00,388.25L574.12,388.25L574.12,386.75L571.62,386.75L571.62,382.62L570.62,382.62L570.62,400.75L568.75,400.75L568.75,383.88L567.88,383.88L567.88,392.62L565.75,392.62L565.75,380.75L564.75,380.75L564.75,388.25L562.88,388.25L562.88,383.00L559.75,383.00L559.75,378.88L558.50,378.88L558.50,386.38L557.00,386.38L557.00,382.00L555.75,382.00L555.75,396.38L553.75,396.38L553.75,383.50L551.62,383.50L551.62,382.62L550.38,382.62L550.38,390.75L548.50,390.75L548.50,385.75L547.50,385.75L547.50,397.00L545.75,397.00L545.75,379.50L544.75,379.50L544.75,386.38L542.88,386.38L542.88,383.25L541.62,383.25L541.62,396.38L539.75,396.38L539.75,385.12L537.88,385.12L537.88,382.00L536.62,382.00L536.62,401.38L534.75,401.38L534.75,388.88L533.50,388.88L533.50,397.62L531.62,397.62L531.62,387.62L530.38,387.62L530.38,390.75L529.12,390.75L529.12,379.50L528.12,379.50L528.12,390.75L526.62,390.75L526.62,390.12L525.38,390.12L525.38,395.50L522.88,395.50L522.88,390.12L521.62,390.12L521.62,402.62L519.75,402.62L519.75,395.50L517.88,395.50L517.88,395.12L516.62,395.12L516.62,402.62L514.75,402.62L514.75,397.00L513.25,397.00L513.25,391.38L512.00,391.38L512.00,388.25L510.75,388.25L510.75,392.62L508.88,392.62L508.88,382.62L507.88,382.62L507.88,387.62L506.25,387.62L506.25,385.12L505.00,385.12L505.00,382.62L504.12,382.62L504.12,394.50L502.25,394.50L502.25,383.25L501.25,383.25L501.25,388.88L500.00,388.88L500.00,392.62L498.75,392.62L498.75,398.25L497.00,398.25L497.00,384.50L496.00,384.50L496.00,393.25L493.75,393.25L493.75,379.50L492.88,379.50L492.88,397.62L491.00,397.62L491.00,391.38L489.75,391.38L489.75,393.88L488.12,393.88L488.12,403.25L486.25,403.25L486.25,394.50L484.75,394.50L484.75,387.00L482.88,387.00L482.88,385.12L481.00,385.12L481.00,389.50L479.12,389.50L479.12,392.00L477.50,392.00L477.50,386.38L476.00,386.38L476.00,382.00L473.50,382.00L473.50,378.88L471.62,378.88L471.62,392.62L469.75,392.62L469.75,393.88L467.88,393.88L467.88,400.75L466.00,400.75L466.00,384.50L464.75,384.50L464.75,395.12L462.88,395.12L462.88,399.75L460.75,399.75L460.75,393.25L459.75,393.25L459.75,400.12L457.88,400.12L457.88,382.62L456.62,382.62L456.62,397.00L454.75,397.00L454.75,380.12L453.50,380.12L453.50,378.88L452.50,378.88L452.50,388.50L450.75,388.50L450.75,379.50L450.00,379.50L450.00,392.62L448.50,392.62L448.50,381.38L447.88,381.38L447.88,390.75L446.00,390.75L446.00,375.75L444.75,375.75L444.75,398.00L442.88,398.00L442.88,383.25L441.88,383.25L441.88,390.12L440.75,390.12L440.75,384.50L439.75,384.50L439.75,393.50L438.12,393.50L438.12,382.62L436.62,382.62L436.62,379.50L433.75,379.50L433.75,377.00L432.88,377.00L432.88,388.50L429.12,388.50L429.12,385.75L427.88,385.75L427.88,383.00L426.00,383.00L426.00,380.75L424.75,380.75L424.75,373.00L423.88,373.00L423.88,383.00L421.62,383.00L421.62,379.50L419.12,379.50L419.12,378.88L417.88,378.88L417.88,387.62L415.75,387.62L415.75,382.62L414.38,382.62L414.38,395.75L412.88,395.75L412.88,380.75L411.62,380.75L411.62,400.50L409.75,400.50L409.75,379.50L408.75,379.50L408.75,405.75L406.88,405.75L406.88,378.25L405.75,378.25L405.75,388.00L404.12,388.00L404.12,379.50L402.62,379.50L402.62,390.75L400.75,390.75L400.75,378.00L397.88,378.00L397.88,380.50L396.00,380.50L396.00,363.25L394.75,363.25L394.75,379.75L393.50,379.75L393.50,351.12L392.25,351.12L392.25,351.50L388.50,351.50L388.50,350.75L384.75,350.75L384.75,349.88L381.00,349.88L381.00,349.12L359.75,349.12L359.75,349.88L356.00,349.88L356.00,349.62L346.00,349.62L346.00,349.75L337.25,349.75L337.25,350.25L334.75,350.25L334.75,350.75L332.88,350.75L332.88,351.50L331.00,351.50L331.00,352.75L329.12,352.75L329.12,354.25L327.25,354.25L327.25,355.50L325.38,355.50L325.38,356.12L323.50,356.12L323.50,359.88L322.50,359.88L322.50,355.50L321.62,355.50L321.62,360.50L320.00,360.50L320.00,365.50L318.75,365.50L318.75,368.25L317.88,368.25L317.88,375.50L316.00,375.50L316.00,373.25L314.12,373.25L314.12,376.38L312.88,376.38L312.88,384.75L311.00,384.75L311.00,376.75L309.75,376.75L309.75,378.25L307.88,378.25L307.88,390.12L307.00,390.12L307.00,394.50L305.00,394.50L305.00,383.88L304.12,383.88L304.12,397.25L302.88,397.25L302.88,395.12L301.62,395.12L301.62,396.75L299.75,396.75L299.75,394.75L297.25,394.75L297.25,392.62L295.38,392.62L295.38,383.25L294.12,383.25L294.12,393.25L293.50,393.25L293.50,395.12L291.38,395.12L291.38,402.62L289.75,402.62L289.75,396.00L286.62,396.00L286.62,398.25L285.00,398.25L285.00,390.12L283.75,390.12L283.75,407.62L281.88,407.62L281.88,419.50L280.00,419.50L280.00,417.00L278.50,417.00L278.50,404.50L276.62,404.50L276.62,403.25L274.75,403.25L274.75,411.38L272.88,411.38L272.88,397.00L271.00,397.00L271.00,389.50L269.75,389.50L269.75,408.50L267.88,408.50L267.88,403.88L266.00,403.88L266.00,400.12L264.12,400.12L264.12,385.75L262.88,385.75L262.88,403.25L261.00,403.25L261.00,390.75L259.75,390.75L259.75,403.25L257.88,403.25L257.88,405.12L256.00,405.12L256.00,404.50L254.12,404.50L254.12,402.62L252.25,402.62L252.25,395.12L251.00,395.12L251.00,398.88L249.12,398.88L249.12,404.50L247.62,404.50L247.62,391.38L246.62,391.38L246.62,406.38L244.75,406.38L244.75,397.62L243.25,397.62L243.25,390.12L242.25,390.12L242.25,396.38L241.00,396.38L241.00,392.00L239.75,392.00L239.75,407.00L237.88,407.00L237.88,403.50L236.00,403.50L236.00,400.75L233.50,400.75L233.50,401.00L231.62,401.00L231.62,391.38L230.75,391.38L230.75,395.12L229.12,395.12L229.12,391.38L225.38,391.38L225.38,400.75L224.50,400.75L224.50,409.50L223.12,409.50L223.12,395.12L222.25,395.12L222.25,408.25L219.75,408.25L219.75,413.50L217.88,413.50L217.88,414.25L216.00,414.25L216.00,393.88L215.00,393.88L215.00,399.75L213.75,399.75L213.75,407.00L212.00,407.00L212.00,396.38L211.00,396.38L211.00,397.62L208.88,397.62L208.88,382.00L207.88,382.00L207.88,392.62L206.00,392.62L206.00,402.00L204.75,402.00L204.75,392.62L203.75,392.62L203.75,406.75L201.62,406.75L201.62,404.25L199.75,404.25L199.75,390.12L197.25,390.12L197.25,387.00L196.00,387.00L196.00,411.38L194.12,411.38L194.12,390.12L192.88,390.12L192.88,392.00L191.00,392.00L191.00,396.38L189.12,396.38L189.12,386.38L187.25,386.38L187.25,390.50L184.75,390.50L184.75,379.50L182.00,379.50L182.00,375.12L181.00,375.12L181.00,386.38L179.12,386.38L179.12,379.50L177.88,379.50L177.88,392.00L176.00,392.00L176.00,370.75L175.00,370.75L175.00,380.12L173.12,380.12L173.12,381.00L171.25,381.00L171.25,363.25L169.75,363.25L169.75,374.50L167.90,374.50L167.88,358.00L166.62,358.00L166.62,359.00L164.12,359.00L164.12,355.25L162.25,355.25L162.25,358.00L161.00,358.00L161.00,357.75L159.12,357.75L159.12,358.25L157.50,358.25L157.50,357.75L156.00,357.75L156.00,358.25L154.50,358.25L154.50,354.25L152.88,354.25L152.88,355.25L150.75,355.25L150.75,351.75L149.12,351.75L149.12,350.25L147.25,350.25L147.25,350.75L145.38,350.75L145.38,355.25L143.50,355.25L143.50,350.50L142.00,350.50Z"/>
<line class="k" x1="143.5" y1="427.5" x2="143.5" y2="432.5"/><line class="k" x1="255.5" y1="427.5" x2="255.5" y2="432.5"/><line class="k" x1="368.5" y1="427.5" x2="368.5" y2="432.5"/><line class="k" x1="481.5" y1="427.5" x2="481.5" y2="432.5"/><line class="k" x1="593.5" y1="427.5" x2="593.5" y2="432.5"/><line class="k" x1="706.5" y1="427.5" x2="706.5" y2="432.5"/><line class="k" x1="819.5" y1="427.5" x2="819.5" y2="432.5"/><line class="k" x1="115.5" y1="282.5" x2="120.5" y2="282.5"/><line class="k" x1="115.5" y1="315.5" x2="120.5" y2="315.5"/><line class="k" x1="115.5" y1="348.5" x2="120.5" y2="348.5"/><line class="k" x1="115.5" y1="381.5" x2="120.5" y2="381.5"/><line class="k" x1="115.5" y1="414.5" x2="120.5" y2="414.5"/>
<rect x="120.5" y="259.5" width="744" height="168.0" fill="none" class="k" stroke-linejoin="miter"/>
<text class="t n" x="143.1" y="445" text-anchor="middle">0.0</text><text class="t n" x="255.1" y="445" text-anchor="middle">0.5</text><text class="t n" x="368.1" y="445" text-anchor="middle">1.0</text><text class="t n" x="481.1" y="445" text-anchor="middle">1.5</text><text class="t n" x="593.1" y="445" text-anchor="middle">2.0</text><text class="t n" x="706.1" y="445" text-anchor="middle">2.5</text><text class="t n" x="819.1" y="445" text-anchor="middle">3.0</text>
<text class="t n" x="109.45" y="286" text-anchor="end">0.4</text><text class="t n" x="109.45" y="319" text-anchor="end">0.2</text><text class="t n" x="109.45" y="352" text-anchor="end">0.0</text><text class="t n" x="108.55" y="385" text-anchor="end">−0.2</text><text class="t n" x="108.55" y="418" text-anchor="end">−0.4</text>
<text class="t l" transform="translate(75,344.40000000000003) rotate(-90)" text-anchor="middle">Channel 2</text>
</g>
</svg>
</body></html>
